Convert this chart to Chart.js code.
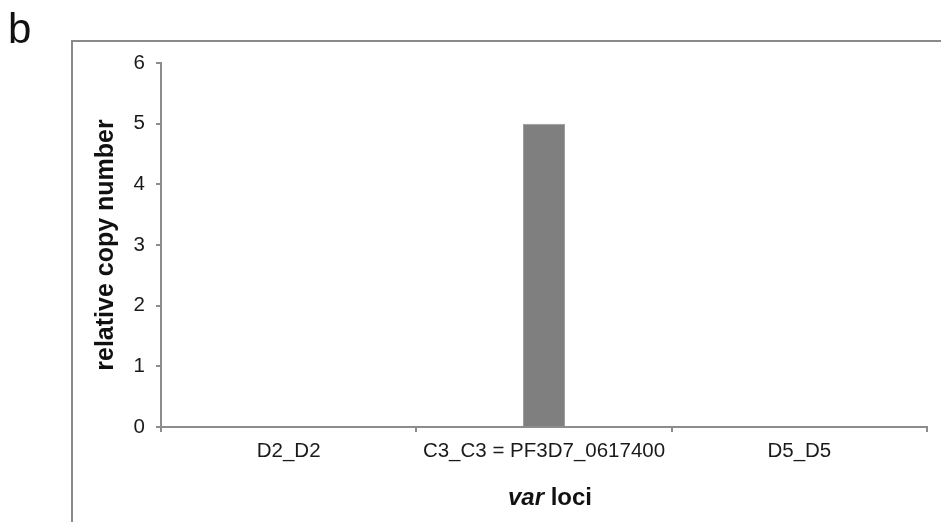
<!DOCTYPE html>
<html>
<head>
<meta charset="utf-8">
<script src="https://cdn.jsdelivr.net/npm/chart.js@4.4.0/dist/chart.umd.min.js"></script>
<style>
  html, body { margin: 0; padding: 0; background: #fff; }
  #wrap { position: relative; width: 941px; height: 522px; overflow: hidden; }
  #frame { position: absolute; left: 71px; top: 40px; right: -4px; bottom: -4px;
           border-left: 2px solid #8a8a8a; border-top: 2px solid #8a8a8a; }
  #c { position: absolute; left: 0; top: 0; }
</style>
</head>
<body>
<div id="wrap">
  <div id="frame"></div>
  <canvas id="c" width="941" height="522"></canvas>
</div>
<script>
const categories = ['D2_D2', 'C3_C3 = PF3D7_0617400', 'D5_D5'];
const copyNumber = [0, 5, 0];
const yTicks = [0, 1, 2, 3, 4, 5, 6];
const panelLabel = 'b';
const yTitle = 'relative copy number';
const xTitleItalic = 'var';
const xTitleRest = ' loci';

const FONT = "'Liberation Sans', Arial, Helvetica, sans-serif";
const AXIS = '#8c8c8c';

const decor = {
  id: 'decor',
  afterDraw(chart) {
    const ctx = chart.ctx;
    const area = chart.chartArea;
    ctx.save();
    ctx.fillStyle = '#111';
    ctx.textBaseline = 'alphabetic';
    ctx.textAlign = 'left';
    ctx.font = '42px ' + FONT;
    ctx.fillText(panelLabel, 8, 43);

    // x title with mixed styles
    ctx.font = 'italic bold 24px ' + FONT;
    const w1 = ctx.measureText(xTitleItalic).width;
    ctx.font = 'bold 24px ' + FONT;
    const w2 = ctx.measureText(xTitleRest).width;
    const cx = (area.left + area.right) / 2 + 6;
    const x0 = cx - (w1 + w2) / 2;
    const base = 505;
    ctx.font = 'italic bold 24px ' + FONT;
    ctx.fillText(xTitleItalic, x0, base);
    ctx.font = 'bold 24px ' + FONT;
    ctx.fillText(xTitleRest, x0 + w1, base);
    ctx.restore();
  }
};

new Chart(document.getElementById('c'), {
  type: 'bar',
  data: {
    labels: categories,
    datasets: [{
      data: copyNumber,
      backgroundColor: '#7f7f7f',
      borderColor: '#9a9a9a',
      borderWidth: 1,
      barPercentage: 0.165,
      categoryPercentage: 1.0
    }]
  },
  options: {
    responsive: false,
    animation: false,
    devicePixelRatio: 1,
    layout: { padding: { top: 63, right: 14, left: 0, bottom: 0 } },
    plugins: { legend: { display: false }, tooltip: { enabled: false } },
    scales: {
      x: {
        offset: true,
        grid: { offset: true, drawOnChartArea: false, drawTicks: true, tickLength: 5, color: AXIS, lineWidth: 2 },
        border: { color: AXIS, width: 2 },
        ticks: { color: '#1a1a1a', font: { family: FONT, size: 20.5 }, padding: 7, maxRotation: 0, autoSkip: false },
        afterFit(scale) { scale.height = 95; }
      },
      y: {
        min: 0, max: 6,
        afterBuildTicks(scale) { scale.ticks = yTicks.map(v => ({ value: v })); },
        grid: { drawOnChartArea: false, drawTicks: true, tickLength: 5, color: AXIS, lineWidth: 2 },
        border: { color: AXIS, width: 2 },
        ticks: { color: '#1a1a1a', font: { family: FONT, size: 20.5 }, padding: 11 },
        title: { display: true, text: yTitle, color: '#111', font: { family: FONT, size: 25, weight: 'bold' }, padding: { top: 91, bottom: 0 } },
        afterFit(scale) { scale.width = 161; }
      }
    }
  },
  plugins: [decor]
});
</script>
</body>
</html>
